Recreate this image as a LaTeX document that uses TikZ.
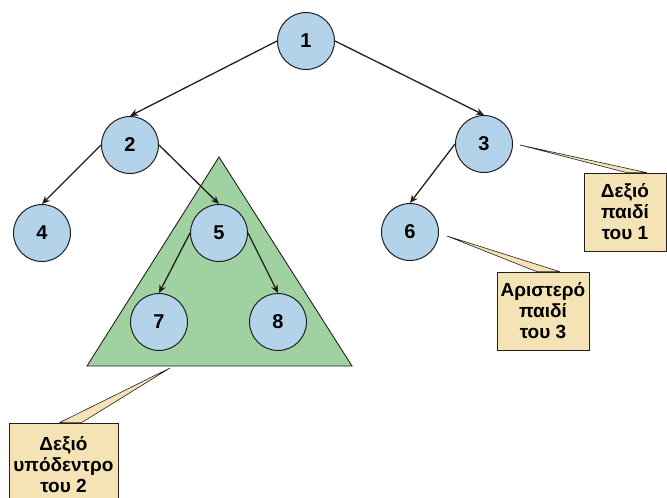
\documentclass[tikz,border=0pt]{standalone}
\usepackage{fontspec}
\setmainfont{Liberation Sans}
\usetikzlibrary{positioning}
\usetikzlibrary{calc}
\usetikzlibrary{arrows.meta}
\definecolor{nodeblue}{HTML}{B3D3EA}
\definecolor{treegreen}{HTML}{A0D1A0}
\definecolor{notetan}{HTML}{F4E3B5}
\definecolor{ink}{HTML}{231F20}

\begin{document}
\begin{tikzpicture}[x=1pt,y=-1pt]
\tikzstyle{vertex} =[circle,draw=ink,fill=nodeblue,line width=1pt,minimum size=57pt,inner sep=0pt,font=\fontsize{20}{22}\selectfont\bfseries]
\tikzstyle{note} =[rectangle,draw=ink,fill=notetan,line width=0.8pt,align=center,inner sep=0pt,font=\fontsize{19}{21}\selectfont\bfseries]
\tikzstyle{edge} =[draw=ink,line width=1.3pt,-{Stealth[length=8pt,width=7pt,inset=2.5pt]}]
\tikzstyle{pointer} =[draw=ink,fill=notetan,line width=0.6pt,line join=round]
\clip (0,0) rectangle (667,498);

% right subtree of 2
\coordinate (top) at (219,157);
\coordinate (bl) at (87,366);
\coordinate (br) at (352,366);
\draw[draw=ink,fill=treegreen,line width=0.9pt] (top)--(bl)--(br)--cycle;

\node[vertex](n1) at (306,41) {1};
\node[vertex](n2) at ($(n1)+(-176,104)$) {2};
\node[vertex](n3) at ($(n1)+(178,103)$) {3};
\node[vertex](n4) at ($(n2)+(-88,88)$) {4};
\node[vertex](n5) at ($(n2)+(89,88)$) {5};
\node[vertex](n6) at ($(n3)+(-74,88)$) {6};
\node[vertex](n7) at ($(n5)+(-60,89)$) {7};
\node[vertex](n8) at ($(n5)+(59,89)$) {8};

\draw[edge] (n1.west)--(n2.north);
\draw[edge] (n1.east)--(n3.north);
\draw[edge] (n2.west)--(n4.north);
\draw[edge] (n2.east)--(n5.north);
\draw[edge] (n3.west)--(n6.north);
\draw[edge] (n5.west)--(n7.north);
\draw[edge] (n5.east)--(n8.north);

% callouts
\node[note,minimum width=82pt,minimum height=78pt](note1) at (625,212) {Δεξιό\\παιδί\\του 1};
\node[note,minimum width=92pt,minimum height=78pt](note3) at (543,311) {Αριστερό\\παιδί\\του 3};
\node[note,minimum width=109pt,minimum height=84pt](note2) at (63.5,465) {Δεξιό\\υπόδεντρο\\του 2};

\coordinate (tip1) at ($(n3.east)+(7,1)$);
\coordinate (tip3) at ($(n6.east)+(8,4)$);
\coordinate (tip2) at (170,368);
\draw[pointer] (tip1)--($(note1.north west)+(43,0)$)--($(note1.north west)+(63,0)$)--cycle;
\draw[pointer] (tip3)--($(note3.north west)+(40,0)$)--($(note3.north west)+(63,0)$)--cycle;
\draw[pointer] (tip2)--($(note2.north west)+(51,0)$)--($(note2.north west)+(73,0)$)--cycle;
\end{tikzpicture}
\end{document}
